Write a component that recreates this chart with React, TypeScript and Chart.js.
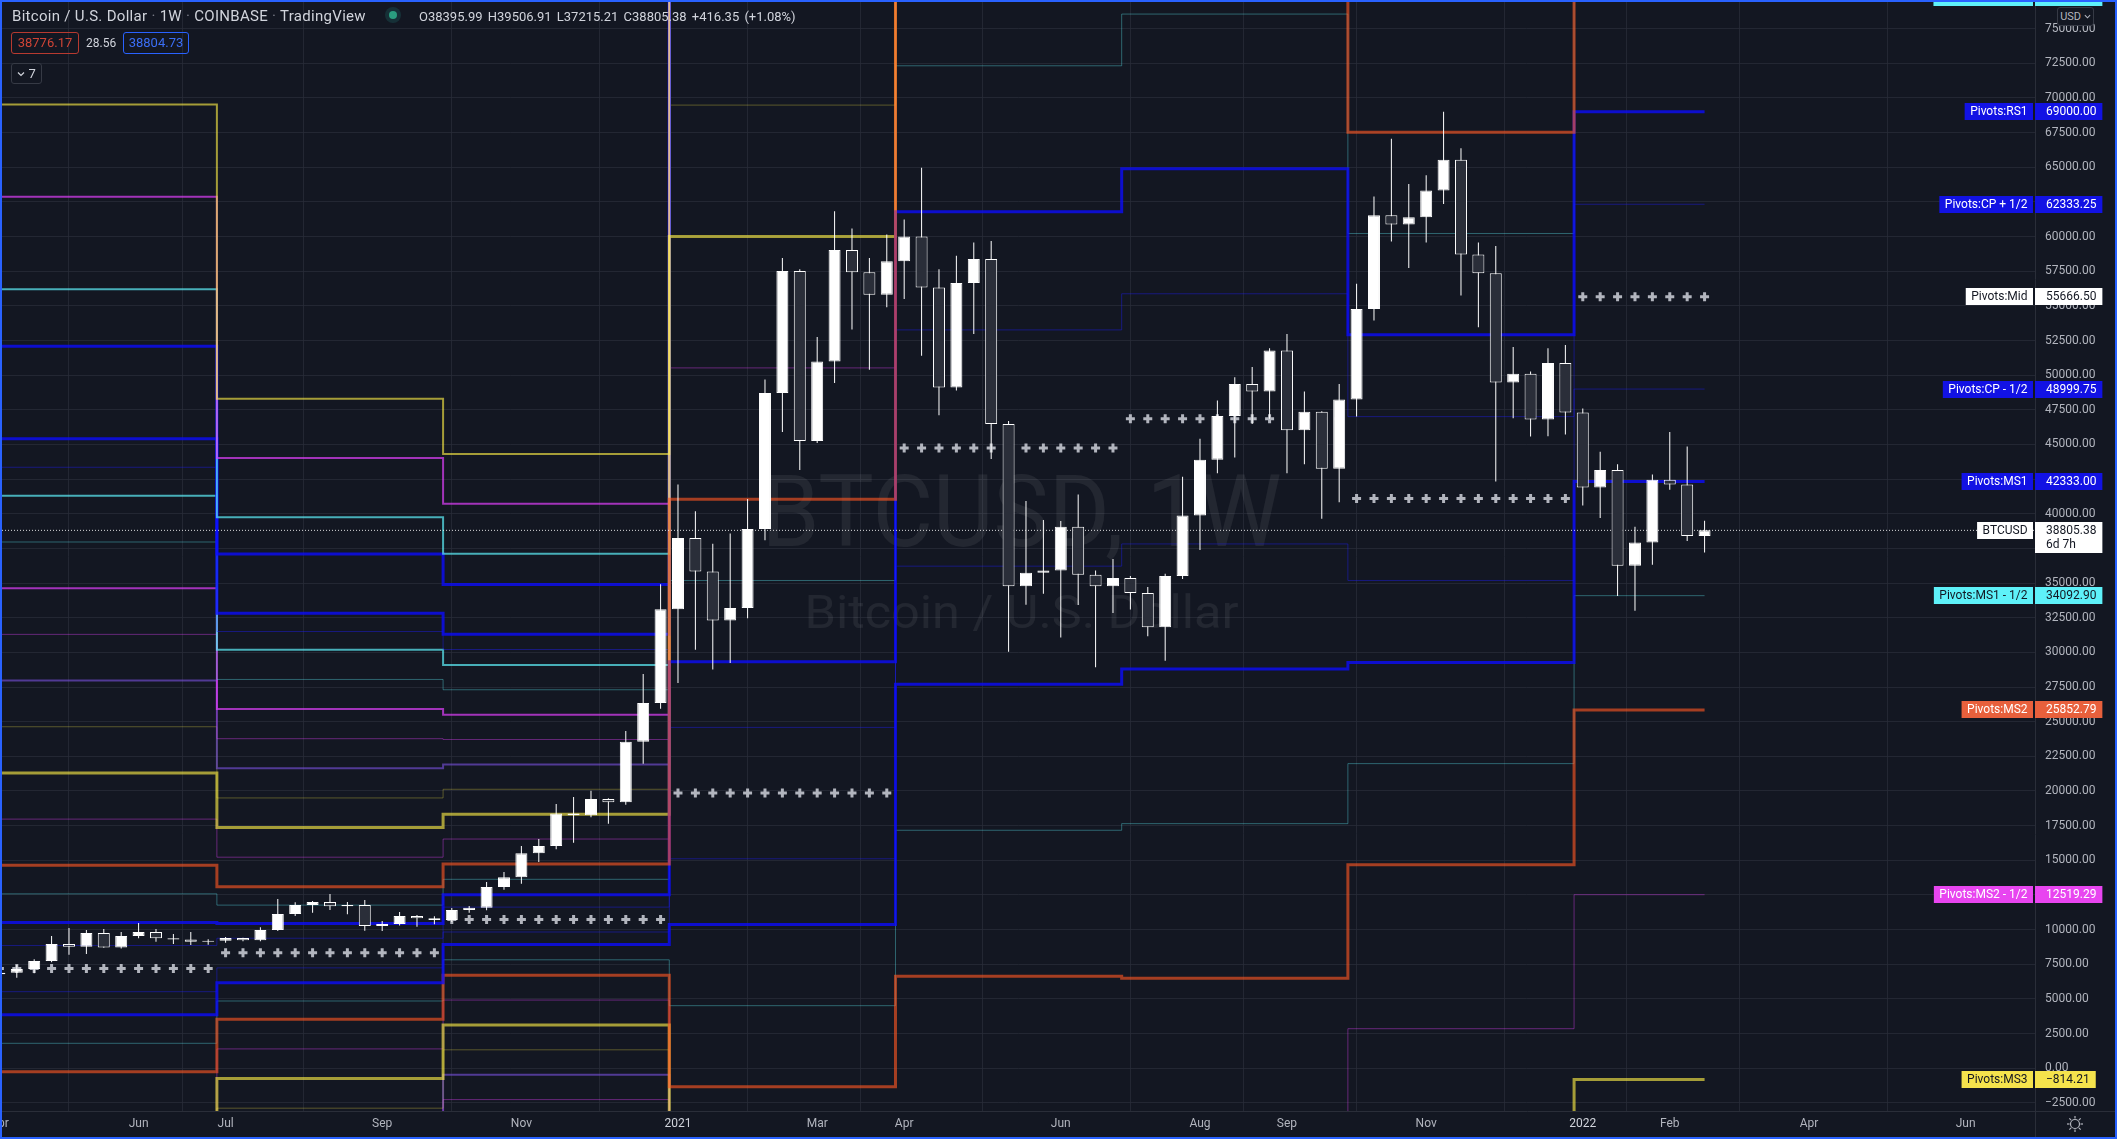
import React, { useEffect, useRef } from 'react';
import { Chart, registerables } from 'chart.js';

Chart.register(...registerables);

if (typeof document !== 'undefined') {
  document.body.style.margin = '0';
  document.body.style.background = '#131722';
}

// ---------- weekly candles (bar index 0 = week of 2021-01-04) ----------
const FIRST_BAR = -39;
const OPEN = [
  6780, 6890, 7160, 7735, 8960, 8770, 9750, 8700, 9540, 9830,
  9370, 9290, 9130, 9200, 9390, 9230, 9970, 11130, 11770, 11990,
  11680, 11775, 10260, 10400, 10980, 10810, 10690, 11410, 11580, 13070,
  13770, 15500, 16030, 18380, 18250, 19420, 19190, 23560, 26350,
  33120, 38250, 35840, 32300, 33200, 38900, 48720, 57520, 45250, 50980,
  59030, 57420, 55810, 58220, 60000, 56330, 49110, 56650, 58390, 46470,
  34780, 35740, 35900, 39060, 35610, 34780, 35370, 34290, 31820, 35520,
  39870, 43900, 47060, 49370, 48820, 51790, 46020, 47370, 43250, 48240,
  54780, 61540, 60870, 61390, 63320, 65540, 58710, 57360, 49470, 50110,
  46800, 50880, 47310, 41900, 43160, 36260, 37930, 42450, 42120, 38395.99,
];
const HIGH = [
  7470, 7450, 7860, 9540, 10115, 9970, 10040, 9830, 10470, 10040,
  9680, 9830, 9300, 9470, 9420, 10170, 12200, 11970, 12070, 12570,
  11990, 12140, 10620, 11270, 11050, 10960, 11560, 11710, 13430, 14160,
  16030, 16540, 19060, 19570, 20020, 19470, 24330, 28440, 34910,
  42120, 40190, 37840, 38580, 41060, 49690, 58460, 57650, 52760, 61830,
  60580, 58460, 60160, 61230, 64960, 57650, 58620, 59580, 59680, 46700,
  40930, 39550, 39480, 41390, 35900, 36740, 35510, 34720, 35680, 42670,
  45410, 48180, 49860, 50590, 51950, 52980, 48820, 47400, 49370, 56590,
  62900, 67060, 63800, 64420, 69000, 66380, 59580, 59320, 52040, 50270,
  51950, 52180, 47600, 44470, 43570, 39060, 42830, 45900, 44860, 39506.91,
];
const LOW = [
  6750, 6530, 6850, 7650, 8190, 8240, 8690, 8640, 9370, 9130,
  8960, 8890, 8900, 9050, 9160, 9160, 9900, 10980, 11220, 11410,
  11110, 9920, 9900, 10290, 10210, 10380, 10550, 11220, 11400, 12880,
  13310, 14880, 15800, 16270, 18100, 17640, 19000, 21970, 25940,
  27790, 30200, 28760, 29240, 32460, 38100, 45900, 43160, 45100, 49440,
  53300, 50400, 54910, 55490, 51400, 47110, 48890, 52980, 43960, 30040,
  33430, 34230, 31080, 33420, 28920, 32840, 33100, 31170, 29400, 35300,
  37390, 42930, 44060, 46480, 46850, 42930, 43570, 39640, 40840, 47020,
  53950, 59650, 57740, 59580, 62350, 55750, 53460, 42333, 46890, 45570,
  45600, 45730, 40600, 39700, 34070, 33000, 36330, 41740, 38040, 37215.21,
];
const CLOSE = [
  6890, 7160, 7735, 8960, 8770, 9750, 8700, 9540, 9830, 9370,
  9290, 9130, 9200, 9390, 9230, 9970, 11130, 11770, 11990, 11680,
  11775, 10260, 10400, 10980, 10810, 10690, 11410, 11580, 13070, 13770,
  15500, 16030, 18380, 18250, 19420, 19190, 23560, 26350, 33120,
  38250, 35840, 32300, 33200, 38900, 48720, 57520, 45250, 50980, 59030,
  57420, 55810, 58220, 60000, 56330, 49110, 56650, 58390, 46470, 34780,
  35740, 35900, 39060, 35610, 34780, 35370, 34290, 31820, 35520, 39870,
  43900, 47060, 49370, 48820, 51790, 46020, 47370, 43250, 48240, 54780,
  61540, 60870, 61390, 63320, 65540, 58710, 57360, 49470, 50110, 46800,
  50880, 47310, 41900, 43160, 36260, 37930, 42450, 42120, 38400, 38805.38,
];
const LAST_PRICE = 38805.38;

// ---------- quarterly pivot levels (one value per quarter) ----------
const PERIOD_START = [-39.5, -26.5, -13.5, -0.5, 12.5, 25.5, 38.5, 51.5];
const LAST_BAR = 59;

const RS11 = [69532, 48296, 44306, 197202, 363623, 384529, 262229, 305110];
const RS10 = [62867, 44021, 40716, 178242, 329533, 348429, 238589, 278443];
const RS9 = [56202, 39746, 37126, 159282, 295443, 312329, 214949, 251776];
const RS8 = [52083, 37104, 34907, 147565, 274375, 290020, 200340, 235295];
const RS7 = [45418, 32829, 31317, 128605, 240285, 253920, 176700, 208628];
const RS6_5 = [43358, 31508, 30208, 122746, 229751, 242765, 169395, 200388];
const RS6 = [41299, 30187, 29099, 116887, 219218, 231610, 162090, 192148];
const RS5_5 = [37966, 28049, 27304, 107407, 202173, 213560, 150270, 178815];
const RS5 = [34634, 25912, 25509, 97927, 185128, 195510, 138450, 165481];
const RS4_5 = [31301, 23774, 23714, 88447, 168083, 177460, 126630, 152148];
const RS4 = [27969, 21637, 21919, 78967, 151038, 159410, 114810, 138814];
const RS3_5 = [24636, 19499, 20124, 69487, 133993, 141360, 102990, 125481];
const RS3 = [21304, 17362, 18329, 60007, 116948, 123310, 91170, 112147];
const RS2_5 = [17971, 15224, 16534, 50527, 99903, 105260, 79350, 98814];
const RS2 = [14639, 13087, 14739, 41047, 82858, 87210, 67530, 85480];
const RS1_5 = [12579, 11766, 13629, 35189, 72324, 76055, 60225, 77240.03];
const RS1 = [10520, 10445, 12520, 29330, 61790, 64900, 52920, 69000];
const CP_UP = [8854, 9376, 11622, 24590, 53268, 55875, 47010, 62333.25];
const MID = [7188, 8330, 10725, 19850, 44745, 46850, 41100, 55666.5];
const CP_DN = [5521, 7239, 9827, 15110, 36222, 37825, 35190, 48999.75];
const MS1 = [3855, 6170, 8930, 10370, 27700, 28800, 29280, 42333];
const MS1_5 = [1796, 4849, 7821, 4511, 17166, 17645, 21975, 34092.9];
const MS2 = [-264, 3528, 6711, -1347, 6632, 6490, 14670, 25852.79];
const MS2_5 = [-3596, 1391, 4916, -10827, -10413, -11560, 2850, 12519.29];
const MS3 = [-6929, -747, 3121, -20307, -27458, -29610, -8970, -814.21];
const MS3_5 = [-10261, -2884, 1326, -29787, -44503, -47660, -20790, -14148];
const MS4 = [-13594, -5022, -469, -39267, -61548, -65710, -32610, -27481];
const MS4_5 = [-16926, -7159, -2264, -48747, -78593, -83760, -44430, -40815];

// ---------- axes ----------
const TIME_TICKS = [-39, -31, -26, -17, -9, 0, 8, 13, 22, 30, 35, 43, 52, 57, 65, 74];
const TIME_LABELS = ['Apr', 'Jun', 'Jul', 'Sep', 'Nov', '2021', 'Mar', 'Apr', 'Jun', 'Aug', 'Sep', 'Nov', '2022', 'Feb', 'Apr', 'Jun'];
const X_MIN = -38.85;
const X_MAX = 77.99;
const Y_MIN = -3088;
const Y_MAX = 76926;
const Y_STEP = 2500;

// ---------- styles ----------
const BG = '#131722';
const GRID = 'rgba(42,46,57,0.75)';
const AXIS_LINE = '#2a2e39';
const STYLE = {
  blue: ['rgba(12,12,255,0.78)', 3],
  thinBlue: ['rgba(30,30,255,0.42)', 1],
  teal: ['rgba(94,241,249,0.36)', 1],
  orange: ['rgba(255,87,34,0.62)', 3],
  thinMag: ['rgba(224,64,251,0.4)', 1],
  mag: ['rgba(224,64,251,0.7)', 2],
  yellow: ['rgba(255,240,70,0.62)', 3],
  yellow2: ['rgba(255,240,70,0.62)', 2],
  olive: ['rgba(255,240,70,0.3)', 1],
  purple: ['rgba(120,80,220,0.62)', 2],
  cyan: ['rgba(94,241,249,0.7)', 2],
};
const LEVELS = [
  [RS2, 'orange'], [RS1, 'blue'], [MS1, 'blue'], [MS2, 'orange'], [MS3, 'yellow'],
  [RS3, 'yellow'], [RS11, 'yellow2'], [RS10, 'mag'], [RS9, 'cyan'], [RS8, 'blue'], [RS7, 'blue'],
  [RS6_5, 'thinBlue'], [RS6, 'cyan'], [RS5_5, 'teal'], [RS5, 'mag'], [RS4_5, 'thinMag'],
  [RS4, 'purple'], [RS3_5, 'olive'], [RS2_5, 'thinMag'],
  [RS1_5, 'teal'], [CP_UP, 'thinBlue'], [CP_DN, 'thinBlue'],
  [MS1_5, 'teal'], [MS2_5, 'thinMag'], [MS3_5, 'olive'], [MS4_5, 'thinMag'], [MS4, 'purple'],
];

const PIVOT_LABELS = [
  ['Pivots:RS1 + 1/2', RS1_5[7], '#5ef1f9', '#131722'],
  ['Pivots:RS1', RS1[7], '#1212e4', '#ffffff'],
  ['Pivots:CP + 1/2', CP_UP[7], '#1212e4', '#ffffff'],
  ['Pivots:Mid', MID[7], '#ffffff', '#131722'],
  ['Pivots:CP - 1/2', CP_DN[7], '#1212e4', '#ffffff'],
  ['Pivots:MS1', MS1[7], '#1212e4', '#ffffff'],
  ['Pivots:MS1 - 1/2', MS1_5[7], '#5ef1f9', '#131722'],
  ['Pivots:MS2', MS2[7], '#e8603c', '#ffffff'],
  ['Pivots:MS2 - 1/2', MS2_5[7], '#e845f0', '#ffffff'],
  ['Pivots:MS3', MS3[7], '#f5e34c', '#131722'],
];

const fmtPrice = (v) => {
  const s = Math.abs(v).toFixed(2);
  return v < 0 ? '\u2212' + s : s;
};

function stepData(vals) {
  const pts = PERIOD_START.map((x, k) => ({ x, y: vals[k] }));
  pts.push({ x: LAST_BAR, y: vals[vals.length - 1] });
  return pts;
}

function drawFit(ctx, text, font, x, y, w) {
  ctx.font = font;
  const m = ctx.measureText(text).width || 1;
  ctx.save();
  ctx.translate(x, y);
  ctx.scale(w / m, 1);
  ctx.fillText(text, 0, 0);
  ctx.restore();
}

const watermarkPlugin = {
  id: 'watermark',
  beforeDatasetsDraw(chart) {
    const { ctx, chartArea: a } = chart;
    const cx = (a.left + a.right) / 2 + 3;
    const cy = (a.top + a.bottom) / 2;
    ctx.save();
    ctx.fillStyle = 'rgba(255,255,255,0.07)';
    ctx.textAlign = 'center';
    ctx.textBaseline = 'alphabetic';
    drawFit(ctx, 'BTCUSD, 1W', '100px Roboto', cx, cy - 11, 520);
    drawFit(ctx, 'Bitcoin / U.S. Dollar', '47px Roboto', cx, cy + 71, 434);
    ctx.restore();
  },
};

function drawLabel(ctx, a, py, name, lines, bg, fg) {
  ctx.font = '12px Roboto';
  ctx.textBaseline = 'middle';
  const nameW = ctx.measureText(name).width + 11;
  const valW = Math.max(...lines.map((l) => ctx.measureText(l).width)) + 17;
  const h = 17;
  const top = Math.round(py - h / 2);
  ctx.fillStyle = bg;
  ctx.fillRect(a.right - 2 - nameW, top, nameW, h);
  const vh = h + (lines.length - 1) * 14;
  ctx.fillRect(a.right, top, valW, vh);
  ctx.fillStyle = fg;
  ctx.textAlign = 'left';
  ctx.fillText(name, a.right - 2 - nameW + 5.5, top + h / 2 + 0.5);
  lines.forEach((l, i) => ctx.fillText(l, a.right + 11, top + h / 2 + 0.5 + i * 14));
}

const labelPlugin = {
  id: 'pivotLabels',
  afterDraw(chart) {
    const { ctx, chartArea: a, scales } = chart;
    ctx.save();
    ctx.strokeStyle = AXIS_LINE;
    ctx.lineWidth = 1;
    ctx.beginPath();
    ctx.moveTo(a.right + 0.5, a.bottom);
    ctx.lineTo(a.right + 0.5, chart.height);
    ctx.moveTo(a.right, a.bottom + 0.5);
    ctx.lineTo(chart.width, a.bottom + 0.5);
    ctx.stroke();
    PIVOT_LABELS.forEach(([name, val, bg, fg]) => {
      drawLabel(ctx, a, scales.y.getPixelForValue(val), name, [fmtPrice(val)], bg, fg);
    });
    drawLabel(ctx, a, scales.y.getPixelForValue(LAST_PRICE), 'BTCUSD', [fmtPrice(LAST_PRICE), '6d 7h'], '#ffffff', '#131722');
    ctx.restore();
  },
};

function ChevronDown({ size = 8, color = '#b2b5be' }) {
  return (
    <svg width={size} height={size} viewBox="0 0 8 8" style={{ display: 'inline-block' }}>
      <path d="M1 2.5 L4 5.5 L7 2.5" stroke={color} strokeWidth="1.2" fill="none" />
    </svg>
  );
}

export default function App() {
  const canvasRef = useRef(null);

  useEffect(() => {
    const bodies = OPEN.map((o, k) => ({ x: FIRST_BAR + k, y: [o, CLOSE[k]] }));
    const wicks = OPEN.map((o, k) => ({ x: FIRST_BAR + k, y: [LOW[k], HIGH[k]] }));
    const bodyFill = OPEN.map((o, k) => (CLOSE[k] >= o ? '#ffffff' : '#2a2e39'));

    const midPts = [];
    PERIOD_START.forEach((s, k) => {
      const end = k + 1 < PERIOD_START.length ? PERIOD_START[k + 1] : LAST_BAR + 0.5;
      for (let i = Math.ceil(s); i < end; i++) midPts.push({ x: i, y: MID[k] });
    });

    const levelSets = LEVELS.map(([vals, st], n) => ({
      type: 'line',
      data: stepData(vals),
      stepped: 'before',
      borderColor: STYLE[st][0],
      borderWidth: STYLE[st][1],
      pointRadius: 0,
      fill: false,
      borderCapStyle: 'butt',
      borderJoinStyle: 'miter',
      order: 10 + n,
    }));

    const chart = new Chart(canvasRef.current, {
      type: 'line',
      data: {
        datasets: [
          {
            type: 'bar',
            data: bodies,
            backgroundColor: bodyFill,
            borderColor: '#ffffff',
            borderWidth: 1,
            borderSkipped: false,
            barThickness: 12,
            grouped: false,
            inflateAmount: 0,
            order: 0,
          },
          {
            type: 'bar',
            data: wicks,
            backgroundColor: '#ffffff',
            borderWidth: 0,
            barThickness: 1,
            grouped: false,
            inflateAmount: 0,
            order: 1,
          },
          {
            type: 'line',
            data: midPts,
            showLine: false,
            pointStyle: 'cross',
            pointRadius: 4.5,
            pointBorderWidth: 3,
            pointBorderColor: '#b2b5be',
            pointBackgroundColor: '#b2b5be',
            order: 2,
          },
          {
            type: 'line',
            data: [{ x: X_MIN, y: LAST_PRICE }, { x: X_MAX, y: LAST_PRICE }],
            borderColor: 'rgba(255,255,255,0.85)',
            borderWidth: 1,
            borderDash: [1, 2],
            pointRadius: 0,
            order: 3,
          },
          ...levelSets,
        ],
      },
      options: {
        responsive: false,
        animation: false,
        devicePixelRatio: 1,
        events: [],
        layout: { padding: 0, autoPadding: false },
        plugins: { legend: { display: false }, tooltip: { enabled: false } },
        scales: {
          x: {
            type: 'linear',
            min: X_MIN,
            max: X_MAX,
            offset: false,
            afterBuildTicks: (s) => {
              s.ticks = TIME_TICKS.map((v) => ({ value: v }));
            },
            afterFit: (s) => {
              s.height = 26;
              s.paddingLeft = 0;
              s.paddingRight = 0;
            },
            ticks: {
              autoSkip: false,
              maxRotation: 0,
              minRotation: 0,
              padding: 6,
              color: (c) => (String(TIME_LABELS[TIME_TICKS.indexOf(c.tick && c.tick.value)]).length === 4 ? '#d1d4dc' : '#b2b5be'),
              font: { family: 'Roboto', size: 12 },
              callback: (v) => {
                const i = TIME_TICKS.indexOf(v);
                return i >= 0 ? TIME_LABELS[i] : '';
              },
            },
            grid: { color: GRID, drawTicks: false, lineWidth: 1 },
            border: { color: AXIS_LINE },
          },
          y: {
            type: 'linear',
            position: 'right',
            min: Y_MIN,
            max: Y_MAX,
            afterBuildTicks: (s) => {
              const t = [];
              for (let v = Math.ceil(Y_MIN / Y_STEP) * Y_STEP; v <= Y_MAX; v += Y_STEP) t.push({ value: v });
              s.ticks = t;
            },
            afterFit: (s) => {
              s.width = 80;
              s.paddingTop = 0;
              s.paddingBottom = 0;
            },
            ticks: {
              padding: 10,
              color: '#b2b5be',
              font: { family: 'Roboto', size: 12 },
              callback: (v) => fmtPrice(Number(v)),
            },
            grid: { color: GRID, drawTicks: false, lineWidth: 1 },
            border: { color: AXIS_LINE },
          },
        },
      },
      plugins: [watermarkPlugin, labelPlugin],
    });
    return () => chart.destroy();
  }, []);

  const txt = { position: 'absolute', whiteSpace: 'nowrap', fontFamily: 'Roboto, sans-serif' };
  const sep = { color: '#787b86' };

  return (
    <div
      style={{
        position: 'relative',
        width: 2117,
        height: 1139,
        boxSizing: 'border-box',
        border: '2px solid #2962ff',
        background: BG,
        overflow: 'hidden',
      }}
    >
      <canvas ref={canvasRef} width={2113} height={1135} style={{ position: 'absolute', left: 0, top: 0, width: 2113, height: 1135 }} />

      <div style={{ ...txt, left: 10, top: 4, fontSize: 15, letterSpacing: '0.3px', color: '#d1d4dc', lineHeight: '20px' }}>
        Bitcoin / U.S. Dollar <span style={sep}>·</span> 1W <span style={sep}>·</span> COINBASE <span style={sep}>·</span> TradingView
      </div>
      <div style={{ position: 'absolute', left: 383, top: 5, width: 16, height: 16, borderRadius: 8, background: 'rgba(38,166,154,0.18)' }} />
      <div style={{ position: 'absolute', left: 387, top: 9, width: 8, height: 8, borderRadius: 4, background: '#2a9d7f' }} />
      <div style={{ ...txt, left: 417, top: 6, fontSize: 13, color: '#d1d4dc', lineHeight: '18px', wordSpacing: '2px' }}>
        O38395.99 H39506.91 L37215.21 C38805.38 +416.35 (+1.08%)
      </div>

      <div
        style={{
          ...txt, left: 9, top: 30, width: 68, height: 22, boxSizing: 'border-box', border: '1px solid #b83a30',
          borderRadius: 3, color: '#cf4436', fontSize: 13, lineHeight: '20px', textAlign: 'center',
        }}
      >
        38776.17
      </div>
      <div style={{ ...txt, left: 84, top: 30, fontSize: 12, color: '#d1d4dc', lineHeight: '22px' }}>28.56</div>
      <div
        style={{
          ...txt, left: 121, top: 30, width: 66, height: 22, boxSizing: 'border-box', border: '1px solid #2962ff',
          borderRadius: 3, color: '#3b6ef5', fontSize: 13, lineHeight: '20px', textAlign: 'center',
        }}
      >
        38804.73
      </div>
      <div
        style={{
          ...txt, left: 9, top: 61, width: 31, height: 21, boxSizing: 'border-box', border: '1px solid #363a45',
          borderRadius: 3, color: '#d1d4dc', fontSize: 13, lineHeight: '19px', textAlign: 'center',
        }}
      >
        <ChevronDown color="#d1d4dc" /> 7
      </div>

      <div
        style={{
          ...txt, left: 2055, top: 5, width: 37, height: 19, boxSizing: 'border-box', border: '1px solid #363a45',
          borderRadius: 3, color: '#b2b5be', fontSize: 11, lineHeight: '17px', textAlign: 'center', background: BG,
        }}
      >
        USD <ChevronDown size={7} />
      </div>

      <svg width="18" height="18" viewBox="0 0 18 18" style={{ position: 'absolute', left: 2064, top: 1113 }}>
        <circle cx="9" cy="9" r="4.5" stroke="#b2b5be" strokeWidth="1.2" fill="none" />
        {[0, 45, 90, 135, 180, 225, 270, 315].map((d) => {
          const r = (d * Math.PI) / 180;
          return (
            <line
              key={d}
              x1={9 + Math.cos(r) * 5.5}
              y1={9 + Math.sin(r) * 5.5}
              x2={9 + Math.cos(r) * 8}
              y2={9 + Math.sin(r) * 8}
              stroke="#b2b5be"
              strokeWidth="1.2"
            />
          );
        })}
      </svg>
    </div>
  );
}
